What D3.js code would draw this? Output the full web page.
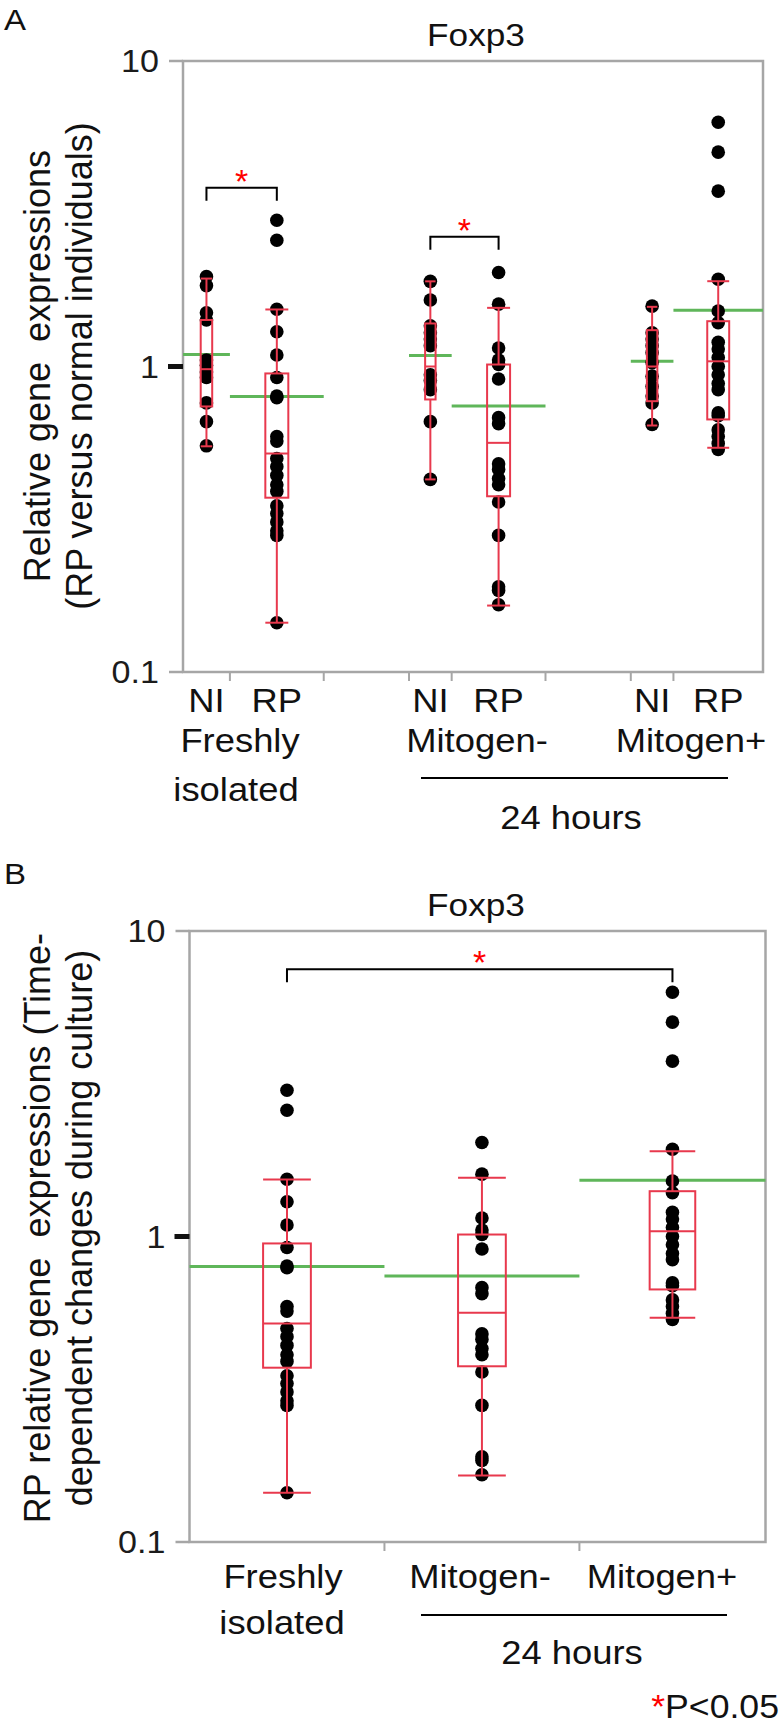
<!DOCTYPE html>
<html><head><meta charset="utf-8">
<script src="https://cdn.jsdelivr.net/npm/d3@7"></script>
<style>body{margin:0;background:#fff}svg{display:block}text{font-family:"Liberation Sans",Arial,sans-serif}</style>
</head><body><svg id="c" width="782" height="1725"></svg>
<script>
// ---------- data ----------
const yTickValues = [0.1, 1, 10];
const yTickLabels = ["0.1", "1", "10"];

// Panel A x-axis slots (slot width ~ sample count; blank slots are spacers)
const slotLabelsA = ["NI", "RP", "", "NI", "RP", "", "NI", "RP"];
const slotCountsA = [11, 22, 20, 10, 22, 20, 10, 21];
// Panel B slots (RP only)
const slotCountsB = [22, 22, 21];

const groupNames = ["NI Freshly", "RP Freshly", "NI Mitogen-", "RP Mitogen-", "NI Mitogen+", "RP Mitogen+"];
const groupSlotA = [0, 1, 3, 4, 6, 7];
const groupsB = [1, 3, 5];

const niFresh = [1.97, 1.84, 1.50, 1.42, 1.05, 1.01, 0.96, 0.92, 0.76, 0.66, 0.55];
const rpFresh = [3.01, 2.59, 1.54, 1.30, 1.09, 0.92, 0.80, 0.79, 0.59, 0.57, 0.50, 0.47, 0.44, 0.41, 0.39, 0.35, 0.33, 0.31, 0.29, 0.28, 0.145];
const niMitMinus = [1.90, 1.65, 1.36, 1.29, 1.23, 1.17, 0.94, 0.90, 0.84, 0.66, 0.427];
const rpMitMinus = [2.03, 1.60, 1.15, 1.05, 1.015, 0.91, 0.68, 0.65, 0.48, 0.46, 0.43, 0.41, 0.36, 0.28, 0.19, 0.185, 0.166];
const niMitPlus = [1.576, 1.29, 1.23, 1.17, 1.11, 1.03, 0.93, 0.86, 0.80, 0.76, 0.646];
const rpMitPlus = [6.30, 5.03, 3.75, 1.93, 1.52, 1.39, 1.20, 1.14, 1.07, 1.00, 0.94, 0.88, 0.84, 0.705, 0.69, 0.62, 0.59, 0.56, 0.535];
const groupDots = [niFresh, rpFresh, niMitMinus, rpMitMinus, niMitPlus, rpMitPlus];

// quantile box statistics per group
const whiskerLow  = [0.548, 0.145, 0.427, 0.165, 0.641, 0.542];
const quart1      = [0.74, 0.372, 0.78, 0.376, 0.77, 0.671];
const medians     = [0.98, 0.519, 1.00, 0.5625, 1.00, 1.04];
const quart3      = [1.42, 0.949, 1.383, 1.015, 1.315, 1.407];
const whiskerHigh = [1.94, 1.537, 1.90, 1.556, 1.568, 1.902];
const groupMeans  = [1.094, 0.797, 1.086, 0.742, 1.04, 1.527];

// significance brackets: [groupFrom, groupTo, level]
const bracketsA = [[0, 1, 3.85], [2, 3, 2.66]];
const bracketsB = [[1, 5, 7.5]];

const conditionLabels = ["Freshly", "isolated", "Mitogen-", "Mitogen+", "24 hours"];

// ---------- drawing ----------
const RED = "#e8394d", GREEN = "#5fb65a", FRAME = "#a6a6a6", INK = "#111";
const svg = d3.select("#c");
svg.append("rect").attr("width", 782).attr("height", 1725).attr("fill", "#fff");

function label(t, x, yb, size, anchor, fill, sx) {
  return svg.append("text").attr("transform", `translate(${x},${yb}) scale(${sx || 1.07},1)`)
    .attr("font-size", size || 34).attr("text-anchor", anchor || "middle")
    .attr("fill", fill || INK).text(t);
}

function drawPanel(cfg) {
  const g = svg.append("g");
  const y = d3.scaleLog().domain([0.1, 10]).range([cfg.bottom, cfg.top]);
  const total = d3.sum(cfg.slotCounts);
  const x = d3.scaleLinear().domain([0, total]).range([cfg.left, cfg.right]);
  const cum = [0, ...d3.cumsum(cfg.slotCounts)];
  const slotStart = i => x(cum[i]), slotEnd = i => x(cum[i + 1]);
  const slotMid = i => (slotStart(i) + slotEnd(i)) / 2;

  g.append("rect").attr("x", cfg.left).attr("y", cfg.top)
    .attr("width", cfg.right - cfg.left).attr("height", cfg.bottom - cfg.top)
    .attr("fill", "none").attr("stroke", FRAME).attr("stroke-width", 2.5);
  yTickValues.forEach((v, i) => {
    if (v === 1) {
      g.append("rect").attr("x", cfg.left - 15).attr("y", y(v) - 2.5).attr("width", 15).attr("height", 5).attr("fill", INK);
    } else {
      g.append("line").attr("x1", cfg.left - 14).attr("x2", cfg.left).attr("y1", y(v)).attr("y2", y(v))
        .attr("stroke", FRAME).attr("stroke-width", 2.5);
    }
    label(yTickLabels[i], cfg.left - 24, y(v) + 11, 31, "end", "#1b1b1b", 1.1);
  });
  for (let i = 1; i < cfg.slotCounts.length; i++) {
    g.append("line").attr("x1", x(cum[i])).attr("x2", x(cum[i])).attr("y1", cfg.bottom).attr("y2", cfg.bottom + 9)
      .attr("stroke", FRAME).attr("stroke-width", 2);
  }
  cfg.groups.forEach((gi, k) => {
    const s = cfg.slotOf[k];
    const cx = slotMid(s);
    const bw = (slotEnd(s) - slotStart(s)) * 0.245;
    g.append("line").attr("x1", slotStart(s)).attr("x2", slotEnd(s))
      .attr("y1", y(groupMeans[gi])).attr("y2", y(groupMeans[gi]))
      .attr("stroke", GREEN).attr("stroke-width", 3);
    g.selectAll(null).data(groupDots[gi]).enter().append("circle")
      .attr("cx", cx).attr("cy", d => y(d)).attr("r", 6.8).attr("fill", "#000");
    const r = g.append("g").attr("stroke", RED).attr("fill", "none").attr("stroke-width", 2);
    r.append("line").attr("x1", cx).attr("x2", cx).attr("y1", y(whiskerHigh[gi])).attr("y2", y(quart3[gi]));
    r.append("line").attr("x1", cx).attr("x2", cx).attr("y1", y(quart1[gi])).attr("y2", y(whiskerLow[gi]));
    r.append("rect").attr("x", cx - bw / 2).attr("width", bw)
      .attr("y", y(quart3[gi])).attr("height", y(quart1[gi]) - y(quart3[gi]));
    r.append("line").attr("x1", cx - bw / 2).attr("x2", cx + bw / 2).attr("y1", y(medians[gi])).attr("y2", y(medians[gi]));
    [whiskerHigh[gi], whiskerLow[gi]].forEach(v => {
      r.append("line").attr("x1", cx - bw / 2).attr("x2", cx + bw / 2).attr("y1", y(v)).attr("y2", y(v));
    });
  });
  cfg.brackets.forEach(([a, b, lev]) => {
    const xa = slotMid(cfg.slotOf[cfg.groups.indexOf(a)]);
    const xb = slotMid(cfg.slotOf[cfg.groups.indexOf(b)]);
    const yy = y(lev);
    g.append("path").attr("d", `M${xa},${yy + 13}V${yy}H${xb}V${yy + 13}`)
      .attr("fill", "none").attr("stroke", "#000").attr("stroke-width", 2);
    g.append("text").attr("x", (xa + xb) / 2).attr("y", yy + 5).attr("text-anchor", "middle")
      .attr("font-size", 34).attr("fill", "#ff0000").text("*");
  });
  if (cfg.slotLabels) {
    cfg.slotLabels.forEach((t, i) => {
      if (t) label(t, slotMid(i), cfg.bottom + 40, 34);
    });
  }
}

function ylabel(lines, cy) {
  [50, 92].forEach((bx, i) => {
    svg.append("text").attr("transform", `translate(${bx},${cy}) rotate(-90)`)
      .attr("text-anchor", "middle").attr("font-size", 36).attr("fill", INK)
      .attr("xml:space", "preserve").text(lines[i]);
  });
}
function underline(x1, x2, yy) {
  svg.append("line").attr("x1", x1).attr("x2", x2).attr("y1", yy).attr("y2", yy)
    .attr("stroke", "#000").attr("stroke-width", 2);
}

// ---- Panel A ----
drawPanel({left: 183, right: 763, top: 61, bottom: 672,
  slotCounts: slotCountsA, groups: [0, 1, 2, 3, 4, 5], slotOf: groupSlotA,
  brackets: bracketsA, slotLabels: slotLabelsA});
label("A", 4, 30, 30, "start", INK, 1.1);
label("Foxp3", 476, 46, 32, "middle", INK, 1.1);
ylabel(["Relative gene  expressions", "(RP versus normal individuals)"], 366);
label(conditionLabels[0], 240, 752);
label(conditionLabels[1], 236, 801);
label(conditionLabels[2], 477, 752);
label(conditionLabels[3], 691, 752);
underline(421, 728, 778);
label(conditionLabels[4], 571, 829);

// ---- Panel B ----
drawPanel({left: 189.5, right: 765.5, top: 931, bottom: 1542,
  slotCounts: slotCountsB, groups: groupsB, slotOf: [0, 1, 2],
  brackets: bracketsB, slotLabels: null});
label("B", 4, 884, 30, "start", INK, 1.1);
label("Foxp3", 476, 916, 32, "middle", INK, 1.1);
ylabel(["RP relative gene  expressions (Time-", "dependent changes during culture)"], 1228);
label(conditionLabels[0], 283, 1588);
label(conditionLabels[1], 282, 1634);
label(conditionLabels[2], 480, 1588);
label(conditionLabels[3], 662, 1588);
underline(421, 727, 1615);
label(conditionLabels[4], 572, 1664);
const p = label("", 779, 1718, 33, "end", INK, 1.08);
p.append("tspan").attr("fill", "#ff0000").text("*");
p.append("tspan").text("P<0.05");
</script></body></html>
